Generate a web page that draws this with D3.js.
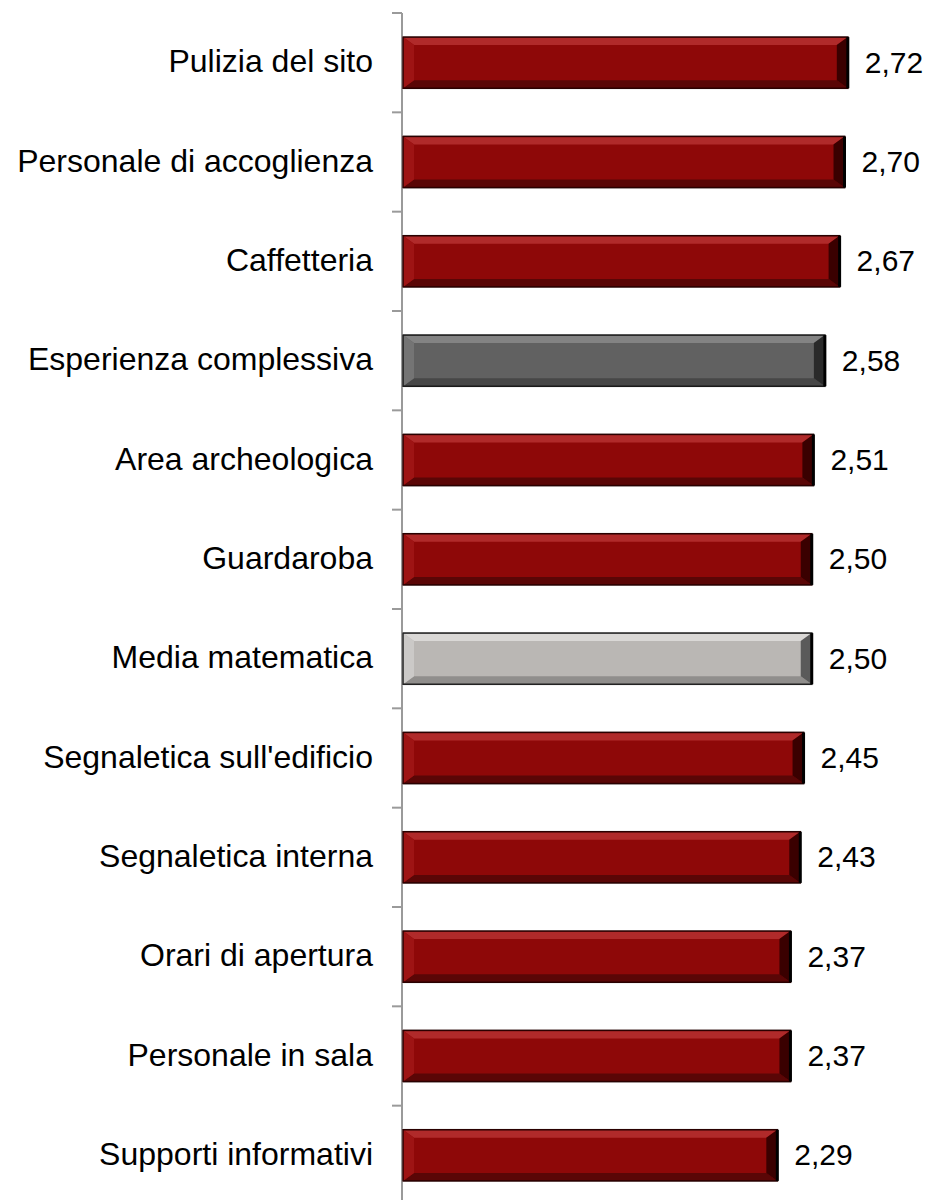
<!DOCTYPE html>
<html><head><meta charset="utf-8">
<script src="https://cdn.jsdelivr.net/npm/d3@7"></script>
<style>body{margin:0;background:#fff}svg{display:block}</style>
</head><body><svg id="c" width="927" height="1200"></svg>
<script>
const categories = ["Pulizia del sito","Personale di accoglienza","Caffetteria","Esperienza complessiva","Area archeologica","Guardaroba","Media matematica","Segnaletica sull'edificio","Segnaletica interna","Orari di apertura","Personale in sala","Supporti informativi"];
const values = [2.72,2.70,2.67,2.58,2.51,2.50,2.50,2.45,2.43,2.37,2.37,2.29];
const valueLabels = ["2,72","2,70","2,67","2,58","2,51","2,50","2,50","2,45","2,43","2,37","2,37","2,29"];
const barKinds = ["red","red","red","dark","red","red","light","red","red","red","red","red"];

const palettes = {
  red:  {main:"#8e0808", top:"#b02a2a", bottom:"#5a0606", left:"#9e1414", right:"#3a0000", border:"#2a0000"},
  dark: {main:"#616161", top:"#838383", bottom:"#474747", left:"#747474", right:"#2a2a2a", border:"#1a1a1a"},
  light:{main:"#bab7b4", top:"#dad8d6", bottom:"#908e8c", left:"#cbc9c7", right:"#5a5a5a", border:"#222222"}
};

const svg = d3.select("#c");
const x = d3.scaleLinear().domain([0,3]).range([402, 402+3*163.9]);
const y = d3.scaleBand().domain(categories).range([13,1205]).paddingInner(0.485).paddingOuter(0.2425);

const axis = d3.axisLeft(y).tickSize(0).tickFormat("");
const ag = svg.append("g").attr("transform","translate(402,0)").call(axis);
ag.select(".domain").attr("stroke","#9a9a9a").attr("stroke-width",2).attr("d","M0,13V1205");
const step = y.step();
const tickYs = d3.range(categories.length+1).map(i=>13+i*step);
svg.append("g").selectAll("line").data(tickYs).join("line")
  .attr("x1",392).attr("x2",402).attr("y1",d=>d).attr("y2",d=>d)
  .attr("stroke","#9a9a9a").attr("stroke-width",2);

const bw = y.bandwidth();
const bv = 11, bh = 8;
const g = svg.append("g").selectAll("g").data(categories).join("g");
g.each(function(c,i){
  const p = palettes[barKinds[i]];
  const x0 = x(0)+1, x1 = x(values[i]), y0 = y(c), y1 = y0+bw;
  const s = d3.select(this);
  s.append("rect").attr("x",x0-1).attr("y",y0-1).attr("width",x1-x0+2).attr("height",bw+2).attr("fill","#c8c8c8");
  s.append("rect").attr("x",x0).attr("y",y0).attr("width",x1-x0).attr("height",bw).attr("fill",p.main);
  const poly = pts => s.append("polygon").attr("points",pts.map(q=>q.join(",")).join(" "));
  poly([[x0,y0],[x1,y0],[x1-bv,y0+bh],[x0+bv,y0+bh]]).attr("fill",p.top);
  poly([[x0,y1],[x1,y1],[x1-bv,y1-bh],[x0+bv,y1-bh]]).attr("fill",p.bottom);
  poly([[x0,y0],[x0+bv,y0+bh],[x0+bv,y1-bh],[x0,y1]]).attr("fill",p.left);
  poly([[x1,y0],[x1-bv,y0+bh],[x1-bv,y1-bh],[x1,y1]]).attr("fill",p.right);
  s.append("rect").attr("x",x0).attr("y",y0).attr("width",x1-x0).attr("height",bw)
    .attr("fill","none").attr("stroke",p.border).attr("stroke-width",1.5);
  s.append("line").attr("x1",x1).attr("x2",x1).attr("y1",y0).attr("y2",y1).attr("stroke","#000").attr("stroke-width",3);
  s.append("text").attr("x",x1+17).attr("y",y0+bw/2).attr("dy","0.33em")
    .attr("font-family","Liberation Sans, Arial, sans-serif").attr("font-size",30).attr("fill","#000")
    .text(valueLabels[i]);
  s.append("text").attr("x",373).attr("y",y0+bw/2).attr("dy","0.3em").attr("text-anchor","end")
    .attr("font-family","Liberation Sans, Arial, sans-serif").attr("font-size",32).attr("fill","#000")
    .text(c);
});
</script></body></html>
